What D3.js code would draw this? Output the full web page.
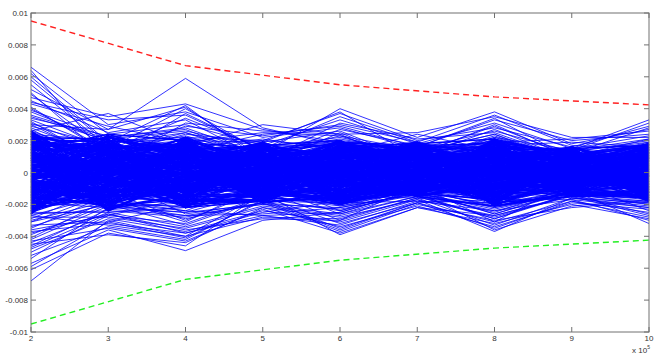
<!DOCTYPE html>
<html>
<head>
<meta charset="utf-8">
<script src="https://cdn.jsdelivr.net/npm/d3@7"></script>
<style>
  body { margin: 0; background: #fff; }
  svg text { font-family: "Liberation Sans", Arial, sans-serif; font-size: 8px; fill: #333; }
</style>
</head>
<body>
<div id="chart"></div>
<script>
// x positions of the runs (in units of 1e5)
var xs = [2, 3, 4, 5, 6, 7, 8, 9, 10];

// outer runs: one column of values per x in units of 1e-4
// line i goes through v2[i], v3[i], ... v10[i]
var v2 = [66,58,47,62,41,52,35,44,64,39,55,30,49,43,60,
  36,28,45,33,22,38,31,26,50,29,19,34,27,40,24,
  21,17,30,24,12,19,16,26,23,9,18,32,15,20,14,
  13,8,18,11,3,14,10,22,7,12,5,9,16,1,11,
  6,2,9,-2,4,12,0,5,3,-5,7,1,15,-1,4,
  -3,2,-6,-1,-8,5,-4,-2,-11,0,-5,-7,3,-3,-9,
  -10,-13,-5,-8,-17,-12,-2,-14,-9,-20,-11,-7,-15,-12,-6,
  -18,-22,-14,-16,-27,-20,-10,-24,-19,-31,-17,-21,-13,-25,-23,
  -30,-26,-35,-28,-42,-33,-22,-38,-29,-46,-27,-34,-19,-36,-31,
  -44,-52,-39,-61,-48,-57,-41,-68,-45,-50,-37,-54,-43,-47,-59];
var v3 = [30,18,35,24,12,27,20,33,9,22,16,27,14,29,19,
  21,10,25,15,6,19,13,37,8,17,11,23,4,14,20,
  12,18,7,14,3,10,22,9,15,1,11,5,16,8,13,
  9,4,13,-2,7,11,2,16,5,0,8,3,12,-5,6,
  3,-1,8,5,-4,2,10,0,-6,6,1,-2,4,-8,7,
  -2,2,-6,1,-9,-3,5,-1,-4,3,-11,0,-5,-7,4,
  -6,-10,-3,-13,1,-8,-5,-15,-2,-11,-7,-18,-4,-9,0,
  -12,-16,-8,-20,-14,-5,-17,-10,-22,-13,-3,-19,-11,-25,-15,
  -18,-24,-14,-28,-21,-31,-16,-26,-9,-23,-33,-19,-12,-27,-20,
  -25,-34,-20,-38,-29,-36,-17,-30,-39,-27,-32,-22,-35,-26,-31];
var v4 = [38,25,43,30,17,41,22,36,13,28,20,59,34,19,42,
  26,15,33,40,11,21,29,18,37,8,24,14,31,23,16,
  19,10,14,6,22,12,27,3,16,9,13,18,7,11,25,
  8,13,2,11,5,17,-1,9,4,15,7,-3,10,6,1,
  2,7,-3,4,0,10,-5,3,6,-1,1,12,-6,5,-2,
  -1,3,-4,-7,1,-2,-9,4,-5,0,-11,-3,6,-8,-1,
  -7,-3,-12,-9,-5,-15,0,-10,-6,-14,-2,-8,-18,-4,-11,
  -13,-18,-9,-21,-16,-6,-24,-12,-19,-15,-26,-10,-17,-22,-14,
  -22,-28,-17,-35,-25,-20,-31,-38,-19,-27,-40,-24,-30,-16,-33,
  -34,-42,-27,-46,-37,-49,-29,-40,-44,-32,-38,-25,-43,-36,-41];
var v5 = [22,12,27,17,30,9,20,14,24,11,19,28,15,25,7,
  16,21,8,13,18,4,23,10,14,6,19,11,26,9,15,
  10,6,14,3,12,17,8,1,11,5,20,7,13,2,9,
  5,9,0,7,12,3,-2,8,4,15,1,6,-4,10,2,
  2,-1,5,0,8,-3,3,1,-5,6,-2,4,10,-1,0,
  -1,2,-4,1,-6,-2,4,-3,0,-8,-1,6,-5,3,-2,
  -4,-7,-1,-9,-3,-5,2,-11,-6,0,-8,-2,-13,-4,-10,
  -9,-6,-13,-3,-11,-16,-7,-10,-14,-5,-19,-8,-12,-1,-15,
  -14,-19,-10,-22,-12,-17,-8,-25,-15,-20,-13,-27,-11,-18,-16,
  -21,-17,-26,-13,-24,-30,-19,-28,-22,-15,-27,-20,-23,-29,-18];
var v6 = [28,40,19,33,24,15,37,21,29,12,26,17,35,23,31,
  22,14,27,18,9,25,30,16,11,20,38,13,24,7,19,
  15,10,20,6,13,17,4,12,23,9,16,2,14,11,18,
  8,3,12,6,-1,10,5,15,2,9,7,0,11,4,13,
  3,0,6,-2,4,1,9,-4,2,5,-1,7,0,-6,3,
  -2,1,-5,-1,3,-7,-3,0,-9,2,-4,-1,-6,5,-3,
  -6,-3,-10,-8,0,-12,-5,-14,-2,-9,-7,-16,-4,-11,-1,
  -11,-16,-8,-19,-13,-5,-21,-10,-15,-24,-12,-7,-18,-14,-20,
  -17,-23,-14,-28,-20,-11,-26,-18,-32,-22,-15,-25,-30,-19,-24,
  -27,-35,-22,-39,-31,-25,-37,-29,-34,-21,-33,-26,-38,-30,-36];
var v7 = [15,22,11,18,25,9,20,13,16,24,7,12,19,14,21,
  12,8,17,10,14,5,19,11,7,15,9,13,3,16,10,
  7,11,4,9,13,6,2,10,8,12,5,15,7,3,9,
  5,2,8,4,0,6,10,3,7,1,5,-2,9,4,2,
  1,3,-1,5,2,0,7,-3,1,4,-2,2,0,6,-1,
  -1,1,-3,0,-5,2,-2,-1,4,-4,0,-2,-6,1,-3,
  -4,-2,-6,-8,-1,-5,-3,-10,0,-7,-4,-2,-9,-5,-6,
  -7,-10,-5,-12,-8,-3,-11,-6,-14,-9,-7,-13,-4,-10,-8,
  -11,-14,-9,-17,-12,-7,-15,-10,-19,-13,-16,-11,-8,-18,-12,
  -15,-19,-13,-22,-17,-11,-20,-16,-21,-14,-18,-12,-22,-16,-19];
var v8 = [26,38,20,31,35,17,28,24,33,14,22,29,36,19,25,
  18,23,13,27,16,21,9,30,15,19,11,24,17,34,12,
  12,7,16,10,20,5,14,9,18,11,3,13,8,15,22,
  7,10,3,12,5,0,8,14,2,6,9,-2,11,4,6,
  2,-1,5,3,7,0,-3,4,1,9,-2,3,6,-5,1,
  -2,1,-4,-1,3,-6,-3,0,-8,2,-5,-1,-3,4,-7,
  -6,-9,-3,-11,-5,-8,0,-13,-7,-4,-10,-2,-12,-6,-15,
  -12,-8,-16,-10,-18,-14,-5,-20,-11,-15,-9,-22,-13,-17,-7,
  -18,-24,-15,-27,-20,-13,-29,-22,-17,-25,-12,-21,-31,-19,-26,
  -28,-35,-23,-32,-37,-26,-30,-21,-34,-29,-24,-36,-27,-33,-31];
var v9 = [13,18,9,15,22,11,16,7,20,12,14,10,17,21,8,
  10,6,13,8,15,4,11,9,14,7,12,5,19,9,11,
  6,9,3,7,11,5,8,2,10,6,4,12,7,1,8,
  4,1,6,3,8,2,5,0,7,3,-1,5,2,9,4,
  1,3,-1,2,0,4,-2,1,5,0,2,-3,3,1,-1,
  -1,0,-3,1,-2,-4,2,-1,-5,0,-2,3,-3,-1,-6,
  -3,-5,-1,-6,-4,-2,-7,0,-5,-8,-3,-4,-9,-2,-6,
  -7,-5,-9,-4,-10,-6,-12,-8,-3,-11,-7,-13,-6,-9,-8,
  -10,-13,-8,-15,-11,-7,-14,-12,-17,-9,-16,-11,-6,-13,-12,
  -14,-18,-12,-20,-16,-11,-22,-15,-19,-13,-17,-21,-14,-16,-18];
var v10 = [20,27,15,33,22,18,29,12,24,17,31,21,14,26,19,
  15,11,19,8,23,13,17,10,21,14,28,9,16,12,18,
  9,13,6,11,4,15,8,12,3,10,7,17,5,11,14,
  6,2,9,4,11,5,0,7,3,8,1,6,10,-2,5,
  2,0,4,-1,6,1,3,-3,2,5,-2,1,8,0,3,
  -1,2,-3,0,-5,1,-2,-4,3,-1,-6,0,-3,4,-2,
  -4,-7,-2,-5,-9,-1,-6,-3,-11,-4,0,-8,-5,-10,-3,
  -8,-11,-6,-13,-9,-4,-14,-7,-10,-16,-8,-12,-5,-15,-9,
  -13,-17,-11,-20,-14,-9,-18,-12,-22,-15,-19,-10,-24,-13,-16,
  -19,-25,-16,-29,-21,-32,-18,-27,-23,-20,-30,-17,-26,-22,-28];

// inner runs that make up the solid core, same units
var c2 = [3,-14,21,-7,10,-22,16,0,-3,25,-18,7,-11,13,-25,
  19,-5,1,-20,8,14,-9,23,-16,4,-1,11,-24,17,-12,
  -6,22,-15,9,2,-19,12,-26,6,15,-8,20,-2,-13,24,
  -21,5,18,-10,-4,26,-17,0,10,-23,7,-7,14,-14,3,
  12,-1,-25,20,-11,4,16,-6,-19,1,23,-15,8,-3,18,
  -9,13,-22,2,-16,21,-5,9,-12,25,-20,6,-8,15,-2,
  0,-24,11,17,-13,5,-4,22,-18,8,-10,19,-1,-26,14,
  7,-15,24,-7,3,-21,12,-3,16,-11,1,-17,20,-9,10,
  -14,26,-6,2,18,-23,9,-12,5,-2,15,-19,23,-5,11,
  -8,4,-16,13,-20,6,21,-13,0,17,-24,8,-4,19,-10];
var c3 = [-11,6,19,-2,-20,13,1,-8,22,-15,9,-4,16,-23,3,
  14,-17,0,10,-6,24,-12,5,-19,11,-1,18,-9,7,-14,
  -22,2,15,-7,20,-3,-16,8,12,-24,4,-10,17,0,-13,
  9,-5,21,-18,1,-8,13,-21,6,-2,23,-11,16,-15,3,
  -1,18,-9,7,-19,11,-4,22,-14,5,-23,14,-6,10,-12,
  20,-16,2,-7,15,-3,12,-20,8,0,-11,19,-17,4,-5,
  -13,9,-24,17,-2,6,-15,21,-8,1,-18,13,-4,24,-10,
  5,-21,11,-6,16,-12,3,-1,19,-16,8,-9,14,-22,0,
  12,-3,-14,23,-7,2,-19,10,-11,17,-5,7,-20,15,-13,
  -4,20,-8,1,-17,13,-23,6,18,-10,4,-15,9,-2,22];
var c4 = [8,-15,3,20,-6,-19,12,-1,16,-10,5,-22,14,-4,10,
  -13,18,-8,1,-17,9,22,-3,-11,6,15,-20,2,-7,13,
  19,-5,-14,11,0,-21,7,-9,17,-2,4,-16,12,-12,21,
  -7,14,-18,3,10,-4,-22,16,-1,8,-13,20,-9,5,-15,
  2,-11,18,-6,13,-19,0,9,-3,22,-14,6,-17,11,-8,
  15,-2,-20,7,-10,17,-5,1,-16,12,4,-12,19,-1,-21,
  -9,21,-4,14,-18,3,10,-7,16,-13,-2,8,-15,20,0,
  11,-17,5,-8,18,-3,-11,13,-22,7,-6,15,2,-14,9,
  -1,12,-19,4,-10,16,-5,21,-12,0,-16,10,-7,17,-20,
  6,-3,19,-13,1,-9,14,-18,8,-4,22,-11,3,-15,11];
var c5 = [-4,11,-16,7,0,18,-9,3,-13,15,-1,-18,9,-6,13,
  17,-12,2,-7,10,-19,5,14,-3,-15,8,-10,19,-2,4,
  -8,1,16,-17,6,-11,12,-4,-14,9,18,-1,-9,3,-16,
  12,-5,-18,15,-2,7,-13,0,10,-7,17,-11,5,-19,14,
  -10,19,-3,4,-15,11,-6,16,-1,-12,2,8,-17,13,-8,
  3,-14,9,-19,18,-4,1,-9,12,-16,6,-2,15,-11,0,
  14,-7,-1,17,-13,5,-18,10,-5,2,-10,19,-15,7,-3,
  -17,6,13,-8,0,-12,16,-2,4,-19,11,-6,9,-14,18,
  1,-11,15,-4,8,-16,3,-9,19,-13,12,-1,-7,5,-18,
  10,-3,-15,2,16,-10,7,-17,14,-5,0,-12,17,-8,6];
var c6 = [12,-6,1,-18,15,-11,7,20,-3,-14,4,10,-19,17,-8,
  -2,16,-13,9,-20,3,-7,13,0,18,-16,6,-10,11,-4,
  19,-12,-1,8,-17,14,-5,2,-15,10,-9,20,-2,5,-18,
  -11,4,17,-7,12,-20,9,-1,15,-14,1,-6,19,-13,7,
  3,-17,11,-4,16,-9,0,-19,13,-3,8,-12,18,-16,6,
  -8,14,-15,2,-5,19,-11,10,-18,5,-2,16,-7,1,-20,
  9,-1,-14,20,-10,7,-16,3,12,-6,17,-19,4,-12,15,
  -5,18,-8,0,13,-17,11,-3,6,-15,19,-9,2,-13,8,
  16,-20,5,-7,10,-2,14,-18,1,-11,12,-4,20,-16,3,
  -13,6,-10,17,-1,-19,9,-6,18,-14,2,11,-8,15,-17];
var c7 = [5,-10,14,-3,9,-14,18,0,-7,11,-12,3,16,-5,7,
  -13,12,-1,19,-9,4,-15,8,13,-4,1,-11,17,-6,10,
  15,-8,2,-12,6,19,-2,-15,9,-6,13,-10,4,17,-1,
  -4,11,-14,7,0,-9,15,-3,5,-13,18,-7,2,12,-11,
  8,-1,16,-15,3,-5,10,-12,14,-8,1,19,-3,6,-10,
  -6,13,-9,4,-14,17,-2,9,-11,0,15,-15,7,-4,11,
  18,-12,5,-7,12,-1,-13,8,3,-10,16,-5,1,-14,10,
  -2,14,-11,19,-8,6,-15,2,13,-6,9,-3,17,-9,0,
  11,-7,4,-13,15,-4,8,-10,18,-1,-14,12,-5,3,-12,
  7,-15,17,-2,10,-9,1,14,-6,-11,6,-13,16,-8,2];
var c8 = [-9,16,-2,10,-18,5,21,-13,1,-6,14,-20,8,-1,12,
  19,-11,4,-16,9,-3,-21,13,0,-8,17,-14,6,-5,11,
  -4,7,-19,15,-10,2,18,-7,-15,10,-1,20,-12,3,-17,
  13,-6,1,-14,20,-9,6,-2,-18,11,4,-11,16,-21,8,
  -13,18,-5,9,-1,-16,14,3,-10,21,-7,0,-19,12,-3,
  5,-20,11,-8,17,-12,2,-4,15,-15,7,19,-2,-9,13,
  -17,1,-11,12,6,-6,20,-14,9,-1,16,-19,4,-8,10,
  3,-15,21,-3,-12,14,-7,8,-20,0,11,-5,18,-13,2,
  15,-10,6,-17,1,19,-4,-14,12,-9,7,-21,13,-2,17,
  -7,10,-16,4,-18,8,-3,16,-11,14,-5,2,-20,9,0];
var c9 = [2,-9,13,-4,7,-14,10,-1,16,-11,5,-6,12,-15,0,
  -12,8,-3,15,-8,3,-13,11,-5,1,14,-10,6,-2,9,
  11,-1,-15,5,-7,16,-11,2,9,-4,13,-13,0,7,-9,
  -6,14,-10,1,12,-3,-14,8,-8,4,15,-12,10,-1,-5,
  9,-13,3,-7,16,-2,6,-11,11,-15,1,-4,14,-9,5,
  -3,12,-14,8,-1,-10,15,2,-6,10,-12,4,-8,13,-2,
  7,-5,0,-13,11,-9,3,14,-15,6,-3,9,-11,1,16,
  -10,4,-7,13,-14,8,-1,10,-5,2,-12,15,-8,5,-4,
  14,-2,-11,6,-6,12,-15,0,9,-9,3,-13,11,-3,7,
  -8,1,16,-12,4,-4,10,-14,13,-1,5,-10,8,-7,12];
var c10 = [-7,13,-2,17,-12,4,-16,9,0,-9,15,-4,6,-14,11,
  12,-5,-17,8,-1,16,-11,3,-8,14,-13,1,18,-6,5,
  -15,10,2,-10,18,-3,7,-18,12,-1,-7,14,-12,4,9,
  3,-13,15,-6,0,11,-16,6,-4,17,-9,8,-2,-14,13,
  -11,16,-8,1,-15,10,-3,13,-17,5,-5,12,-10,2,18,
  8,-1,-14,11,-7,3,17,-12,0,-18,9,-6,15,-3,-9,
  -4,14,-10,6,16,-15,1,-8,12,-2,7,-16,10,-13,4,
  15,-6,5,-11,-1,13,-18,8,-5,17,2,-9,11,-15,0,
  -2,9,-16,18,-7,6,-12,1,14,-4,-10,16,-1,7,-17,
  10,-14,3,-8,12,-3,17,-11,5,-13,11,0,-6,15,-12];

// bound curves (dashed), only given at the even runs
var boundX = [2, 4, 6, 8, 10];
var upperBound = [0.0095, 0.0067, 0.0055, 0.00474, 0.00424];
var lowerBound = [-0.0095, -0.0067, -0.0055, -0.00474, -0.00424];

var xTicks = [2, 3, 4, 5, 6, 7, 8, 9, 10];
var yTicks = [-0.01, -0.008, -0.006, -0.004, -0.002, 0, 0.002, 0.004, 0.006, 0.008, 0.01];
var yTickLabels = ["-0.01", "-0.008", "-0.006", "-0.004", "-0.002", "0", "0.002", "0.004", "0.006", "0.008", "0.01"];

var width = 664, height = 359;
var padLeft = 31, padRight = 649, padTop = 13, padBottom = 332;

var svg = d3.select("#chart").append("svg")
  .attr("width", width)
  .attr("height", height);

svg.append("rect").attr("width", width).attr("height", height).attr("fill", "#fff");

var x = d3.scaleLinear().domain([2, 10]).range([padLeft, padRight]);
var y = d3.scaleLinear().domain([-0.01, 0.01]).range([padBottom, padTop]);

// build the lines from the columns
function toRuns(cols) {
  return cols[0].map(function(d, i) {
    return xs.map(function(xv, j) { return [xv, cols[j][i] * 1e-4]; });
  });
}
var coreRuns = toRuns([c2, c3, c4, c5, c6, c7, c8, c9, c10]);
var outerRuns = toRuns([v2, v3, v4, v5, v6, v7, v8, v9, v10]);

var line = d3.line()
  .defined(function(d) { return !isNaN(d[1]); })
  .x(function(d) { return x(d[0]); })
  .y(function(d) { return y(d[1]); });

var plot = svg.append("g");

// core bundle is so dense it reads as solid blue, so draw it a bit heavier
plot.selectAll("path.core")
  .data(coreRuns)
  .enter()
  .append("path")
  .attr("class", "core")
  .attr("d", line)
  .attr("fill", "none")
  .attr("stroke", "#0000ff")
  .attr("stroke-width", 1.5);

plot.selectAll("path.run")
  .data(outerRuns)
  .enter()
  .append("path")
  .attr("class", "run")
  .attr("d", line)
  .attr("fill", "none")
  .attr("stroke", "#0000ff")
  .attr("stroke-width", 0.8);

var upper = boundX.map(function(d, i) { return [d, upperBound[i]]; });
var lower = boundX.map(function(d, i) { return [d, lowerBound[i]]; });

plot.append("path")
  .attr("d", line(upper))
  .attr("fill", "none")
  .attr("stroke", "#ff2020")
  .attr("stroke-width", 1.4)
  .attr("stroke-dasharray", "6,4");

plot.append("path")
  .attr("d", line(lower))
  .attr("fill", "none")
  .attr("stroke", "#22ee22")
  .attr("stroke-width", 1.4)
  .attr("stroke-dasharray", "6,4");

// box + inward ticks, matlab style
var axisColor = "#707070";
var tickLen = 5;
var ax = svg.append("g");

ax.append("rect")
  .attr("x", padLeft).attr("y", padTop)
  .attr("width", padRight - padLeft).attr("height", padBottom - padTop)
  .attr("fill", "none")
  .attr("stroke", axisColor)
  .attr("stroke-width", 1);

xTicks.forEach(function(t) {
  ax.append("line")
    .attr("x1", x(t)).attr("x2", x(t))
    .attr("y1", padBottom).attr("y2", padBottom - tickLen)
    .attr("stroke", axisColor);
  ax.append("line")
    .attr("x1", x(t)).attr("x2", x(t))
    .attr("y1", padTop).attr("y2", padTop + tickLen)
    .attr("stroke", axisColor);
  ax.append("text")
    .attr("x", x(t))
    .attr("y", padBottom + 9)
    .attr("text-anchor", "middle")
    .text(t);
});

yTicks.forEach(function(t, i) {
  ax.append("line")
    .attr("x1", padLeft).attr("x2", padLeft + tickLen)
    .attr("y1", y(t)).attr("y2", y(t))
    .attr("stroke", axisColor);
  ax.append("line")
    .attr("x1", padRight).attr("x2", padRight - tickLen)
    .attr("y1", y(t)).attr("y2", y(t))
    .attr("stroke", axisColor);
  ax.append("text")
    .attr("x", padLeft - 3)
    .attr("y", y(t) + 3)
    .attr("text-anchor", "end")
    .text(yTickLabels[i]);
});

// exponent label under the x axis
var expo = ax.append("text")
  .attr("x", padRight - 17)
  .attr("y", padBottom + 21);
expo.append("tspan").text("x 10");
expo.append("tspan")
  .attr("dy", -4)
  .style("font-size", "5px")
  .text("5");
</script>
</body>
</html>
